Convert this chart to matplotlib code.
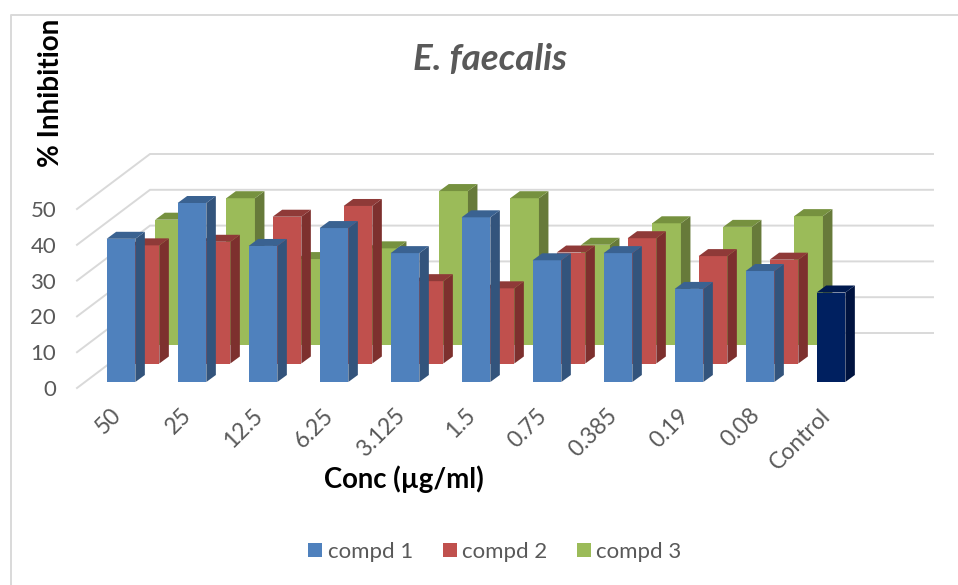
import matplotlib
matplotlib.use("Agg")
import matplotlib.pyplot as plt
from matplotlib.patches import Polygon

plt.rcParams["font.family"] = ["Lato", "DejaVu Sans"]

# --- Data ---
conc = ["50", "25", "12.5", "6.25", "3.125", "1.5", "0.75", "0.385", "0.19", "0.08", "Control"]
compd1 = [40, 50, 38, 43, 36, 46, 34, 36, 26, 31, 25]
compd2 = [33, 34, 41, 44, 23, 21, 31, 35, 30, 29]
compd3 = [35, 41, 24, 27, 43, 41, 28, 34, 33, 36]
y_ticks = [0, 10, 20, 30, 40, 50]

W, H = 958, 585
PX_X = 71.0    # one category
PX_Y = 3.58    # one % unit
X0 = 121.0     # pixel of the first blue bar centre
Y0 = 382.0     # pixel of the blue bar base
BAR_W = 28.7 / PX_X
DX, DY = 9.5 / PX_X, 7.0 / PX_Y   # bar depth


def px_x(px):
    return (px - X0) / PX_X


def px_y(px):
    return (Y0 - px) / PX_Y


fig = plt.figure(figsize=(W / 100, H / 100), dpi=100)
left, right, bottom, top = 77, 933, 388, 153.7
ax = fig.add_axes([left / W, 1 - bottom / H, (right - left) / W, (bottom - top) / H])
ax.set_xlim(px_x(left), px_x(right))
ax.set_ylim(px_y(bottom), px_y(top))
for s in ax.spines.values():
    s.set_visible(False)

# --- Chart frame, partly cut by the image edges ---
fig.add_artist(plt.Line2D([10.5 / W, 10.5 / W, 1], [0, 1 - 15 / H, 1 - 15 / H], color="#d9d9d9", lw=1.4))

# --- Back wall and diagonal gridlines ---
grid = "#d9d9d9"
front_shift = px_y(388)
back_shift = px_y(333)
wall_x = px_x(150)
for v in y_ticks:
    ax.plot([px_x(77), wall_x, px_x(933)],
            [v + front_shift, v + back_shift, v + back_shift],
            color=grid, lw=1.4, zorder=1, clip_on=False, solid_joinstyle="miter")


def bars_3d(values, offset_x, offset_y, front, side, cap, label, z):
    xs = [i + offset_x for i in range(len(values))]
    fronts = [front] * len(values)
    sides = [side] * len(values)
    caps = [cap] * len(values)
    if len(values) == 11:
        fronts[-1], sides[-1], caps[-1] = "#002060", "#00133f", "#001a4f"
    ax.bar(xs, values, BAR_W, bottom=offset_y, color=fronts, label=label, zorder=z, clip_on=False)
    for x, v, s, c in zip(xs, values, sides, caps):
        l, r = x - BAR_W / 2, x + BAR_W / 2
        t = offset_y + v
        ax.add_patch(Polygon([(r, offset_y), (r + DX, offset_y + DY), (r + DX, t + DY), (r, t)],
                             color=s, lw=0, zorder=z, clip_on=False))
        ax.add_patch(Polygon([(l, t), (r, t), (r + DX, t + DY), (l + DX, t + DY)],
                             color=c, lw=0, zorder=z, clip_on=False))


# back to front
bars_3d(compd3, 48.6 / PX_X, 37 / PX_Y, "#9bbb59", "#677a3a", "#76913f", "compd 3", 3)
bars_3d(compd2, 24.0 / PX_X, 18.5 / PX_Y, "#c0504d", "#7d302e", "#8f3a38", "compd 2", 4)
bars_3d(compd1, 0, 0, "#4f81bd", "#33547c", "#3a6291", "compd 1", 5)

# --- Axes text ---
ax.set_yticks([v + front_shift for v in y_ticks], [str(v) for v in y_ticks])
# rotated labels end a little left of the bar centres
label_shift = -11 / PX_X
ax.set_xticks([i + label_shift for i in range(len(conc))], conc)
ax.tick_params(axis="y", length=0, labelsize=16, labelcolor="#595959", pad=15)
ax.tick_params(axis="x", length=0, labelsize=16.5, labelcolor="#595959", pad=12)
for t in ax.get_xticklabels():
    t.set_rotation(45)
    t.set_ha("right")
    t.set_rotation_mode("anchor")

fig.text(490 / W, 1 - 60 / H, "E. faecalis", ha="center", va="center", fontsize=26.5,
         fontstyle="italic", fontweight="bold", color="#595959")
fig.text(51 / W, 1 - 93 / H, "% Inhibition", rotation=90, ha="center", va="center",
         fontsize=20, fontweight="bold", color="black")
fig.text(404 / W, 1 - 479 / H, "Conc (µg/ml)", ha="center", va="center",
         fontsize=19.8, fontweight="bold", color="black")

# --- Legend, in series order ---
handles, labels = ax.get_legend_handles_labels()
order = [labels.index(n) for n in ("compd 1", "compd 2", "compd 3")]
fig.legend([handles[i] for i in order], [labels[i] for i in order], ncol=3,
           loc="center", bbox_to_anchor=(495 / W, 1 - 552 / H), frameon=False,
           fontsize=16, labelcolor="#595959", handlelength=0.63, handleheight=0.63,
           handletextpad=0.23, columnspacing=1.35)

fig.savefig("out.png", dpi=100)
